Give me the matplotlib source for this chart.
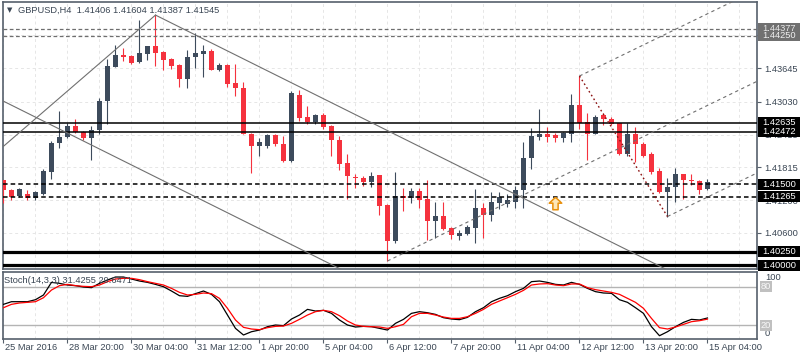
import numpy as np
import matplotlib
matplotlib.use("Agg")
import matplotlib.pyplot as plt
from matplotlib.patches import Rectangle

plt.rcParams['font.family'] = ['Liberation Sans', 'DejaVu Sans']

symbol_title = "GBPUSD,H4  1.41406 1.41604 1.41387 1.41545"
stoch_title = "Stoch(14,3,3) 31.4255 29.6471"

# H4 candles, 25 Mar 2016 12:00 .. 15 Apr 2016 04:00
opens = [1.41571, 1.41398, 1.41274, 1.41324, 1.41237, 1.41324, 1.41732, 1.42258, 1.42369, 1.42568,
         1.42475, 1.42351, 1.42512, 1.43038, 1.43669, 1.43886, 1.43868, 1.43762, 1.43905, 1.44048,
         1.43948, 1.43812, 1.43701, 1.43441, 1.43855, 1.43910, 1.43961, 1.43608, 1.43701, 1.43366,
         1.43274, 1.42438, 1.42202, 1.42215, 1.42419, 1.42252, 1.41937, 1.43157, 1.42735, 1.42648,
         1.42772, 1.42568, 1.42327, 1.41894, 1.41634, 1.41621, 1.41534, 1.41664, 1.41120, 1.40457,
         1.41287, 1.41237, 1.41380, 1.41231, 1.40828, 1.40916, 1.40698, 1.40544, 1.40581, 1.40693,
         1.41064, 1.40928, 1.41162, 1.41138, 1.41175, 1.41385, 1.41979, 1.42382, 1.42438, 1.42406,
         1.42351, 1.42438, 1.42958, 1.42648, 1.42438, 1.42772, 1.42711, 1.42624, 1.42054, 1.42432,
         1.42239, 1.42067, 1.41745, 1.41361, 1.41448, 1.41682, 1.41584, 1.41560, 1.41406]
highs = [1.41584, 1.41411, 1.41435, 1.41398, 1.41367, 1.41783, 1.42295, 1.42846, 1.42637, 1.42698,
         1.42488, 1.42574, 1.43101, 1.43812, 1.44072, 1.44011, 1.43886, 1.44536, 1.44059, 1.44629,
         1.43966, 1.43837, 1.43719, 1.43974, 1.44295, 1.44072, 1.43998, 1.43738, 1.43719, 1.43725,
         1.43390, 1.42450, 1.42364, 1.42438, 1.42438, 1.42388, 1.43231, 1.43242, 1.42945, 1.42791,
         1.42809, 1.42587, 1.42388, 1.42067, 1.41682, 1.41645, 1.41719, 1.41677, 1.41138, 1.41719,
         1.41435, 1.41430, 1.41435, 1.41584, 1.41175, 1.41175, 1.40717, 1.40656, 1.40743, 1.41417,
         1.41162, 1.41348, 1.41348, 1.41324, 1.41460, 1.42289, 1.42536, 1.42884, 1.42550, 1.42451,
         1.42462, 1.43162, 1.43502, 1.42809, 1.42785, 1.42809, 1.42748, 1.42637, 1.42624, 1.42562,
         1.42289, 1.42104, 1.41807, 1.41621, 1.41807, 1.41695, 1.41682, 1.41571, 1.41604]
lows = [1.41157, 1.41213, 1.41263, 1.41200, 1.41200, 1.41306, 1.41597, 1.42165, 1.42351, 1.42456,
        1.42327, 1.41942, 1.42425, 1.42611, 1.43663, 1.43780, 1.43719, 1.43751, 1.43799, 1.43688,
        1.43613, 1.43639, 1.43292, 1.43279, 1.43658, 1.43478, 1.43608, 1.43590, 1.43298, 1.43131,
        1.42420, 1.41708, 1.42030, 1.42178, 1.42215, 1.41905, 1.41918, 1.42661, 1.42605, 1.42618,
        1.42525, 1.42030, 1.41757, 1.41226, 1.41422, 1.41473, 1.41448, 1.40940, 1.40080, 1.40409,
        1.41014, 1.41162, 1.41064, 1.40470, 1.40507, 1.40656, 1.40483, 1.40470, 1.40557, 1.40409,
        1.40507, 1.40828, 1.41040, 1.41077, 1.41064, 1.41064, 1.41783, 1.42314, 1.42289, 1.42276,
        1.42276, 1.42276, 1.42525, 1.41955, 1.42420, 1.42587, 1.42587, 1.42043, 1.42017, 1.41918,
        1.42005, 1.41682, 1.41337, 1.40903, 1.41175, 1.41226, 1.41485, 1.41324, 1.41387]
closes = [1.41385, 1.41263, 1.41411, 1.41237, 1.41348, 1.41745, 1.42265, 1.42382, 1.42568, 1.42462,
          1.42351, 1.42512, 1.43045, 1.43682, 1.43886, 1.43849, 1.43738, 1.43923, 1.44048, 1.43923,
          1.43799, 1.43688, 1.43441, 1.43862, 1.43923, 1.43961, 1.43613, 1.43701, 1.43353, 1.43279,
          1.42438, 1.42202, 1.42289, 1.42414, 1.42239, 1.41937, 1.43181, 1.42722, 1.42648, 1.42772,
          1.42562, 1.42314, 1.41881, 1.41645, 1.41608, 1.41534, 1.41658, 1.41101, 1.40457, 1.41287,
          1.41237, 1.41380, 1.41213, 1.40828, 1.40916, 1.40680, 1.40568, 1.40605, 1.40711, 1.41064,
          1.40928, 1.41175, 1.41263, 1.41200, 1.41398, 1.41992, 1.42388, 1.42438, 1.42382, 1.42351,
          1.42451, 1.42958, 1.42624, 1.42438, 1.42748, 1.42698, 1.42611, 1.42054, 1.42432, 1.42239,
          1.42030, 1.41732, 1.41361, 1.41448, 1.41682, 1.41571, 1.41560, 1.41398, 1.41545]

stoch_k = [52.6, 56.7, 56.7, 56.7, 59.8, 67.1, 86.7, 85.2, 82.6, 81.6,
           79.5, 78.5, 85.2, 90.4, 95.0, 95.0, 91.9, 88.8, 86.7, 83.6,
           80.0, 73.3, 66.0, 65.0, 69.2, 73.3, 68.1, 56.7, 36.0, 15.3,
           5.0, 10.1, 12.7, 17.9, 20.5, 19.5, 29.8, 36.0, 44.8, 42.2,
           43.3, 38.6, 28.3, 20.5, 17.4, 18.4, 17.9, 15.3, 12.7, 23.1,
           29.3, 38.6, 41.2, 39.6, 37.0, 31.9, 29.8, 28.8, 32.4, 41.2,
           47.4, 56.7, 61.9, 66.0, 72.3, 77.4, 87.8, 88.8, 86.7, 83.6,
           82.6, 86.7, 83.6, 77.4, 72.3, 70.2, 69.7, 59.8, 55.7, 47.4,
           38.6, 17.9, 3.9, 10.1, 17.9, 24.6, 29.3, 28.3, 31.4255]
stoch_d = [47.4, 52.6, 54.7, 55.7, 56.7, 62.9, 74.8, 81.6, 83.6, 81.6,
           80.5, 80.0, 82.6, 87.8, 91.9, 93.0, 93.0, 90.9, 87.8, 85.2,
           82.6, 77.4, 71.2, 67.1, 68.1, 70.2, 69.2, 61.9, 46.4, 28.3,
           16.9, 14.3, 13.3, 16.4, 18.4, 18.9, 23.1, 29.3, 36.0, 41.2,
           43.3, 41.2, 35.0, 26.7, 20.5, 18.4, 17.9, 17.4, 15.3, 17.9,
           21.5, 33.4, 38.6, 38.6, 36.0, 32.9, 30.8, 30.8, 33.4, 38.6,
           44.8, 52.6, 57.8, 62.9, 68.1, 74.3, 82.6, 84.2, 84.7, 82.6,
           81.6, 84.2, 84.2, 78.5, 75.4, 73.3, 71.2, 68.1, 61.9, 55.7,
           46.4, 30.8, 16.4, 14.3, 17.4, 21.5, 25.7, 27.2, 29.6471]

time_labels = ["25 Mar 2016", "28 Mar 20:00", "30 Mar 04:00", "31 Mar 12:00", "1 Apr 20:00",
               "5 Apr 04:00", "6 Apr 12:00", "7 Apr 20:00", "11 Apr 04:00", "12 Apr 12:00",
               "13 Apr 20:00", "15 Apr 04:00"]
time_label_bars = [0, 8, 16, 24, 32, 40, 48, 56, 64, 72, 80, 88]

price_grid = [1.44260, 1.43645, 1.43030, 1.42415, 1.41815, 1.41200, 1.40600]

# horizontal line objects
gray_dash_levels = [1.44377, 1.44250]
solid_levels = [1.42472, 1.42635]
black_dash_levels = [1.41500, 1.41265]
thick_levels = [1.40250, 1.40000]

# trend lines (bar index, price)
trend_up_bars = [0, 19]
trend_up_prices = [1.42202, 1.44629]
channel_top_bars = [19, 69]
channel_top_prices = [1.44629, 1.40945]
channel_bot_bars = [0, 40]
channel_bot_prices = [1.43036, 1.40088]

# Andrews' pitchfork anchors
pitch_bars = [48, 72, 83]
pitch_prices = [1.40080, 1.43502, 1.40903]

arrow_bar = 69
arrow_price = 1.41162

W, H = 800, 360
bull = "#3d4b5c"
bear = "#f5323e"
frame = "#56606c"
txt = "#3a4654"
fs = 6.7

fig = plt.figure(figsize=(W / 100, H / 100), dpi=100)
ax = fig.add_axes([3 / W, 1 - 269 / H, 754 / W, 267 / H])
ax2 = fig.add_axes([3 / W, 1 - 339 / H, 754 / W, 67 / H])

xmin, xmax = -0.06, 94.19
n = len(opens)
idx = np.arange(n)
o = np.array(opens)
c = np.array(closes)
hi = np.array(highs)
lo = np.array(lows)
cols = np.where(c >= o, bull, bear)

# ---- main panel ----
ax.vlines(idx, lo, hi, colors=cols, lw=0.8, zorder=3)
body_bot = np.minimum(o, c)
body_h = np.maximum(np.abs(c - o), 0.00015)
ax.bar(idx, body_h, 0.6, bottom=body_bot, color=cols, linewidth=0, zorder=4)

for lv in gray_dash_levels:
    ax.axhline(lv, color="#6e6e6e", lw=0.9, linestyle=(0, (3, 2)), zorder=5)
for lv in solid_levels:
    ax.axhline(lv, color="black", lw=1.1, zorder=5)
for lv in black_dash_levels:
    ax.axhline(lv, color="black", lw=1.1, linestyle=(0, (3, 2)), zorder=5)
for lv in thick_levels:
    ax.axhline(lv, color="black", lw=2.3, zorder=5)


def ray(bars, prices, start, end):
    slope = (prices[1] - prices[0]) / (bars[1] - bars[0])
    return [start, end], [prices[0] + slope * (start - bars[0]), prices[0] + slope * (end - bars[0])]


ax.plot(trend_up_bars, trend_up_prices, color="#707070", lw=0.8, zorder=5)
ax.plot(*ray(channel_top_bars, channel_top_prices, channel_top_bars[0], 100), color="#707070", lw=0.8, zorder=5)
ax.plot(*ray(channel_bot_bars, channel_bot_prices, -2, 100), color="#707070", lw=0.8, zorder=5)

# pitchfork
mid_bar = (pitch_bars[1] + pitch_bars[2]) / 2
mid_price = (pitch_prices[1] + pitch_prices[2]) / 2
pf_slope = (mid_price - pitch_prices[0]) / (mid_bar - pitch_bars[0])
for b, p in zip(pitch_bars, pitch_prices):
    ax.plot([b, 100], [p, p + pf_slope * (100 - b)], color="#6e6e6e", lw=0.8,
            linestyle=(0, (3, 3)), zorder=5)
ax.plot(pitch_bars[1:], pitch_prices[1:], color="#8b1010", lw=1.0,
        linestyle=(0, (1.2, 2)), zorder=5)

# buy arrow marker
up_arrow = [(0, 1), (-1, 0.05), (-0.42, 0.05), (-0.42, -1), (0.42, -1), (0.42, 0.05), (1, 0.05), (0, 1)]
ax.plot([arrow_bar], [arrow_price], marker=up_arrow, markersize=9, markerfacecolor="#fde7b8",
        markeredgecolor="#e8900c", markeredgewidth=1.1, linestyle="none", zorder=6)

ax.set_xlim(xmin, xmax)
ax.set_ylim(1.39932, 1.44871)
ax.set_xticks(time_label_bars)
ax.set_xticks([b + 4 for b in time_label_bars], minor=True)
ax.tick_params(axis="x", which="both", length=0, labelbottom=False)
ax.yaxis.tick_right()
ax.set_yticks(price_grid)
ax.set_yticklabels([f"{v:.5f}" for v in price_grid])
ax.tick_params(axis="y", length=3, width=0.8, pad=2, labelsize=fs, labelcolor=txt, color=frame)
ax.grid(True, which="both", color="#e6e6e6", linestyle=(0, (3, 3)), lw=0.7, zorder=0)
ax.set_axisbelow(True)
for s in ax.spines.values():
    s.set_color(frame)
    s.set_linewidth(1.2)

# price label boxes on the right scale
box_h = 0.00205
label_boxes = [(1.44377, "#707070", "#e8e8e8"), (1.44250, "#707070", "#f0f0f0"),
               (1.42472, "black", "white"), (1.42635, "black", "white"),
               (1.41500, "black", "white"), (1.41265, "black", "white"),
               (1.40250, "black", "white"), (1.40000, "black", "white")]
ytr = ax.get_yaxis_transform()
for lv, fc, tc in label_boxes:
    ax.add_patch(Rectangle((1.0013, lv - box_h / 2), 44 / 754, box_h, transform=ytr,
                           facecolor=fc, edgecolor="none", clip_on=False, zorder=7))
    ax.text((762 - 3) / 754, lv, f"{lv:.5f}", transform=ytr, ha="left", va="center",
            fontsize=fs, color=tc, clip_on=False, zorder=8)

fig.text(7 / W, 1 - 10.5 / H, "\u25bc", fontsize=5, color=txt, va="center", family="DejaVu Sans")
fig.text(18 / W, 1 - 10.5 / H, symbol_title, fontsize=fs, color=txt, va="center")

# ---- stochastic panel ----
ax2.plot(idx, stoch_k, color="black", lw=0.9, zorder=3)
ax2.plot(idx, stoch_d, color="red", lw=0.9, zorder=4)
ax2.axhline(80, color="#b4b4b4", lw=1.0, zorder=2)
ax2.axhline(20, color="#b4b4b4", lw=1.0, zorder=2)
ax2.set_xlim(xmin, xmax)
ax2.set_ylim(-1.2, 102.8)
ax2.set_yticks([])
ax2.set_xticks(time_label_bars)
ax2.set_xticks([b + 4 for b in time_label_bars], minor=True)
ax2.tick_params(axis="x", which="major", length=3, width=0.8, color=frame, labelbottom=False)
ax2.tick_params(axis="x", which="minor", length=0)
ax2.grid(True, axis="x", which="both", color="#e6e6e6", linestyle=(0, (3, 3)), lw=0.7, zorder=0)
for s in ax2.spines.values():
    s.set_color(frame)
    s.set_linewidth(1.2)

ax2.text(7 / 754, (338.2 - 280.5) / 0.644, stoch_title, fontsize=fs, color=txt,
         va="center", ha="left", zorder=6)
y2 = ax2.get_yaxis_transform()
ax2.text(762 / 754, 101, "100", transform=y2, fontsize=fs, color=txt, va="top", clip_on=False,
         zorder=9)
ax2.text(762 / 754, 0, "0", transform=y2, fontsize=fs, color=txt, va="bottom", clip_on=False)
for lv in (80, 20):
    ax2.text(758 / 754, lv, str(lv), transform=y2, fontsize=fs, color="#f8f8f8", va="center",
             clip_on=False, zorder=8,
             bbox=dict(boxstyle="square,pad=0.12", fc="#c0c0c0", ec="none"))

x2 = ax2.get_xaxis_transform()
for b, lab in zip(time_label_bars, time_labels):
    ax2.text(b + 0.2, -(348 - 339) / 67, lab, transform=x2, fontsize=fs, color=txt,
             ha="left", va="center", clip_on=False)

fig.savefig("out.png", dpi=100)
